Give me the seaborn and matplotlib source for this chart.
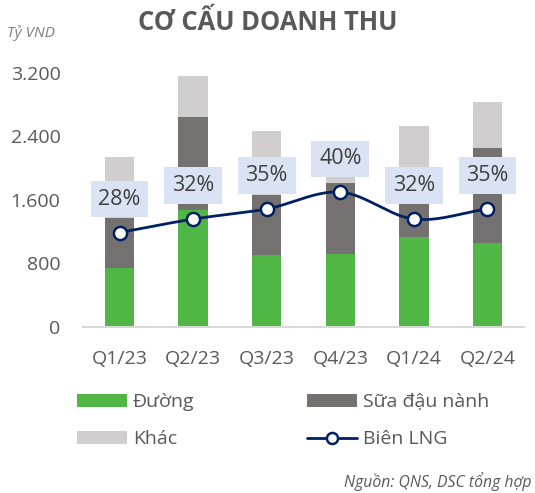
import numpy as np
import pandas as pd
import matplotlib
matplotlib.use("Agg")
import matplotlib.pyplot as plt
import seaborn as sns
from matplotlib.patches import Patch
from matplotlib.lines import Line2D
from matplotlib.ticker import FuncFormatter

# ---- data ----
quarters = ["Q1/23", "Q2/23", "Q3/23", "Q4/23", "Q1/24", "Q2/24"]
duong = [746, 1472, 906, 914, 1128, 1061]
sua_dau_nanh = [629, 1166, 754, 894, 419, 1187]
khac = [760, 523, 810, 140, 981, 579]
bien_lng = [28, 32, 35, 40, 32, 35]

C_GREEN = "#50B747"
C_GRAY = "#767171"
C_LIGHT = "#D0CECE"
C_NAVY = "#002060"
C_TEXT = "#595959"

sns.set_theme(style="white")
plt.rcParams["font.family"] = ["Open Sans", "DejaVu Sans"]

df = pd.DataFrame({"q": quarters, "d": duong, "s": sua_dau_nanh, "k": khac, "m": bien_lng})
df["ds"] = df["d"] + df["s"]
df["total"] = df["ds"] + df["k"]

fig = plt.figure(figsize=(5.35, 4.93), dpi=100)
ax = fig.add_axes([82.7 / 535, 1 - 327 / 493, (524.3 - 82.7) / 535, (327 - 72.7) / 493])

sns.barplot(data=df, x="q", y="total", color=C_LIGHT, width=0.4, linewidth=0, ax=ax, saturation=1)
sns.barplot(data=df, x="q", y="ds", color=C_GRAY, width=0.4, linewidth=0, ax=ax, saturation=1)
sns.barplot(data=df, x="q", y="d", color=C_GREEN, width=0.4, linewidth=0, ax=ax, saturation=1)

ax.set_ylim(0, 3200)
ax.set_xlim(-0.5, len(quarters) - 0.5)
ax.set_yticks([0, 800, 1600, 2400, 3200])
ax.yaxis.set_major_formatter(FuncFormatter(lambda v, p: f"{int(v):,}".replace(",", ".")))
ax.set_xlabel("")
ax.set_ylabel("")
ax.tick_params(axis="y", length=0, pad=16, labelsize=14, labelcolor=C_TEXT)
ax.tick_params(axis="x", length=0, pad=16.5, labelsize=14, labelcolor=C_TEXT)
for s in ["top", "right", "left"]:
    ax.spines[s].set_visible(False)
ax.spines["bottom"].set_color("#D9D9D9")
ax.spines["bottom"].set_linewidth(1.5)

# ---- margin line on secondary axis (smoothed like Excel) ----
ax2 = ax.twinx()
ax2.set_ylim(0, 75.4)
ax2.axis("off")
xs = np.arange(len(bien_lng), dtype=float)
ys = np.array(bien_lng, dtype=float)
n = len(ys)
tang = np.zeros(n)
tang[0] = ys[1] - ys[0]
tang[-1] = ys[-1] - ys[-2]
tang[1:-1] = (ys[2:] - ys[:-2]) / 2
cx, cy = [], []
for i in range(n - 1):
    t = np.linspace(0, 1, 40)
    h00 = 2 * t**3 - 3 * t**2 + 1
    h10 = t**3 - 2 * t**2 + t
    h01 = -2 * t**3 + 3 * t**2
    h11 = t**3 - t**2
    cx.extend(xs[i] + t)
    cy.extend(h00 * ys[i] + h10 * tang[i] + h01 * ys[i + 1] + h11 * tang[i + 1])
sns.lineplot(x=cx, y=cy, color=C_NAVY, linewidth=2.0, ax=ax2, sort=False, estimator=None)
ax2.plot(xs, ys, linestyle="none", marker="o", markersize=9.5, markerfacecolor="white",
         markeredgecolor=C_NAVY, markeredgewidth=1.8, zorder=5)
for x, v in zip(xs, bien_lng):
    ax2.annotate(f"{v}%", xy=(x, v), xytext=(0, 24), textcoords="offset points",
                 ha="center", va="center", fontsize=15.5, color="#404040",
                 bbox=dict(boxstyle="square,pad=0.36", fc="#DAE3F3", ec="none"), zorder=6)

# ---- texts ----
fig.text(268 / 535, 1 - 22 / 493, "CƠ CẤU DOANH THU", ha="center", va="center",
         fontsize=18.4, fontweight="bold", color=C_TEXT)
fig.text(7 / 535, 1 - 33 / 493, "Tỷ VND", ha="left", va="center", fontsize=11,
         fontstyle="italic", color="#7F7F7F")
fig.text(532 / 535, 1 - 482 / 493, "Nguồn: QNS, DSC tổng hợp", ha="right", va="center",
         fontsize=11.3, fontstyle="italic", color=C_TEXT)

# ---- legend ----
handles = [
    Patch(facecolor=C_GREEN, edgecolor="none", label="Đường"),
    Patch(facecolor=C_LIGHT, edgecolor="none", label="Khác"),
    Patch(facecolor=C_GRAY, edgecolor="none", label="Sữa đậu nành"),
    Line2D([0], [0], color=C_NAVY, linewidth=2.0, marker="o", markersize=8,
           markerfacecolor="white", markeredgecolor=C_NAVY, markeredgewidth=1.8, label="Biên LNG"),
]
leg = fig.legend(handles=handles, ncol=2, loc="upper left", bbox_to_anchor=(77 / 535, 1 - 393 / 493),
                 frameon=False, fontsize=14, handlelength=2.57, handleheight=0.65,
                 handletextpad=0.3, columnspacing=5.8, labelspacing=1.0, borderpad=0,
                 borderaxespad=0)
for t in leg.get_texts():
    t.set_color(C_TEXT)

fig.savefig("out.png", dpi=100)
